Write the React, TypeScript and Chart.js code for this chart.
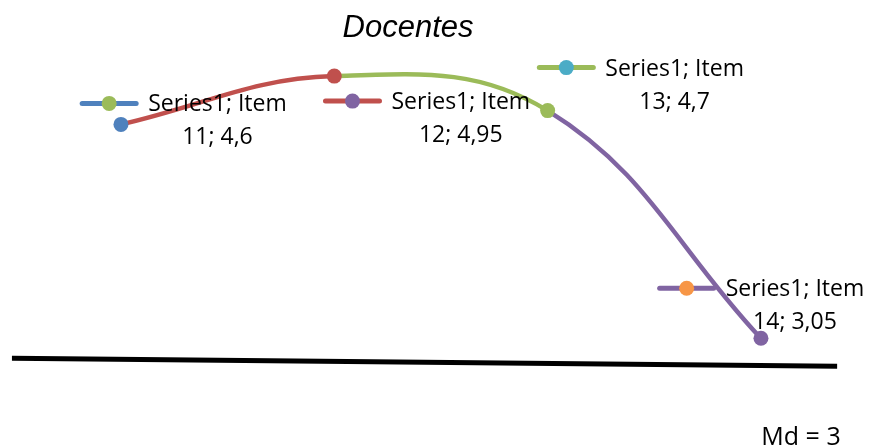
import React, { useEffect, useRef } from "react";
import { Chart, registerables } from "chart.js";

Chart.register(...registerables);

const categories = [11, 12, 13, 14];
const values = [4.6, 4.95, 4.7, 3.05];
const seriesName = "Series1";
const medianX = [10.489, 14.357];
const medianY = [2.905, 2.848];
const medianLabel = "Md = 3";
const titleText = "Docentes";

const pointColors = ["#4F81BD", "#C0504D", "#9BBB59", "#8064A2"];
const segmentColors = ["#C0504D", "#9BBB59", "#8064A2"];
const keyLineColors = ["#4F81BD", "#C0504D", "#9BBB59", "#8064A2"];
const keyDotColors = ["#9BBB59", "#8064A2", "#4BACC6", "#F79646"];
const labelOffsets = [
  [96.5, -13],
  [126.5, 33],
  [127, -35],
  [34, -42],
];

const fmt = (v: number) => String(v).replace(".", ",");

const labelPlugin = {
  id: "excelLabels",
  afterDatasetsDraw(chart: any) {
    const ctx = chart.ctx;
    const meta = chart.getDatasetMeta(1);
    ctx.save();
    ctx.font = '23px "Open Sans"';
    ctx.fillStyle = "#000";
    ctx.textAlign = "center";
    ctx.textBaseline = "alphabetic";
    meta.data.forEach((pt: any, i: number) => {
      const cx = pt.x + labelOffsets[i][0];
      const by = pt.y + labelOffsets[i][1];
      const l1 = `${seriesName}; Item`;
      const l2 = `${categories[i]}; ${fmt(values[i])}`;
      const w1 = ctx.measureText(l1).width;
      ctx.fillText(l1, cx, by);
      ctx.fillText(l2, cx, by + 33);
      const kr = cx - w1 / 2 - 12;
      const kl = kr - 54;
      const ky = by - 8;
      ctx.strokeStyle = keyLineColors[i];
      ctx.lineWidth = 5;
      ctx.lineCap = "round";
      ctx.beginPath();
      ctx.moveTo(kl, ky);
      ctx.lineTo(kr, ky);
      ctx.stroke();
      ctx.fillStyle = keyDotColors[i];
      ctx.beginPath();
      ctx.arc((kl + kr) / 2, ky, 7.5, 0, Math.PI * 2);
      ctx.fill();
      ctx.fillStyle = "#000";
    });
    ctx.font = '25px "Open Sans"';
    ctx.textAlign = "center";
    ctx.fillText(medianLabel, chart.width - 69, chart.height - 2);
    ctx.restore();
  },
};

export default function App() {
  const ref = useRef<HTMLCanvasElement>(null);
  useEffect(() => {
    document.body.style.margin = "0";
    if (!ref.current) return;
    const chart = new Chart(ref.current, {
      type: "line",
      data: {
        datasets: [
          {
            data: medianX.map((x, i) => ({ x, y: medianY[i] })),
            borderColor: "#000",
            borderWidth: 5,
            pointRadius: 0,
            clip: false as any,
            tension: 0,
          },
          {
            data: categories.map((c, i) => ({ x: c, y: values[i] })),
            borderWidth: 4.5,
            tension: 0.4,
            pointRadius: 7.5,
            pointBackgroundColor: pointColors,
            pointBorderColor: pointColors,
            pointBorderWidth: 0,
            clip: false as any,
            segment: {
              borderColor: (c: any) => segmentColors[c.p0DataIndex],
            },
          },
        ],
      },
      options: {
        animation: false,
        responsive: true,
        maintainAspectRatio: false,
        layout: { autoPadding: false, padding: { left: 0, right: 54, top: 0, bottom: 0 } },
        scales: {
          x: { type: "linear", display: false, min: 10.433, max: 14.258 },
          y: { type: "linear", display: false, min: 2.2625, max: 5.1595 },
        },
        plugins: {
          legend: { display: false },
          tooltip: { enabled: false },
          title: {
            display: true,
            text: titleText,
            color: "#000",
            font: { family: '"Liberation Sans", Arial', size: 31, style: "italic", weight: "normal", lineHeight: 1.2 },
            padding: { top: 10, bottom: 0 },
          },
        },
      },
      plugins: [labelPlugin],
    });
    return () => chart.destroy();
  }, []);
  return (
    <div style={{ width: 870, height: 447, position: "relative" }}>
      <canvas ref={ref} />
    </div>
  );
}
